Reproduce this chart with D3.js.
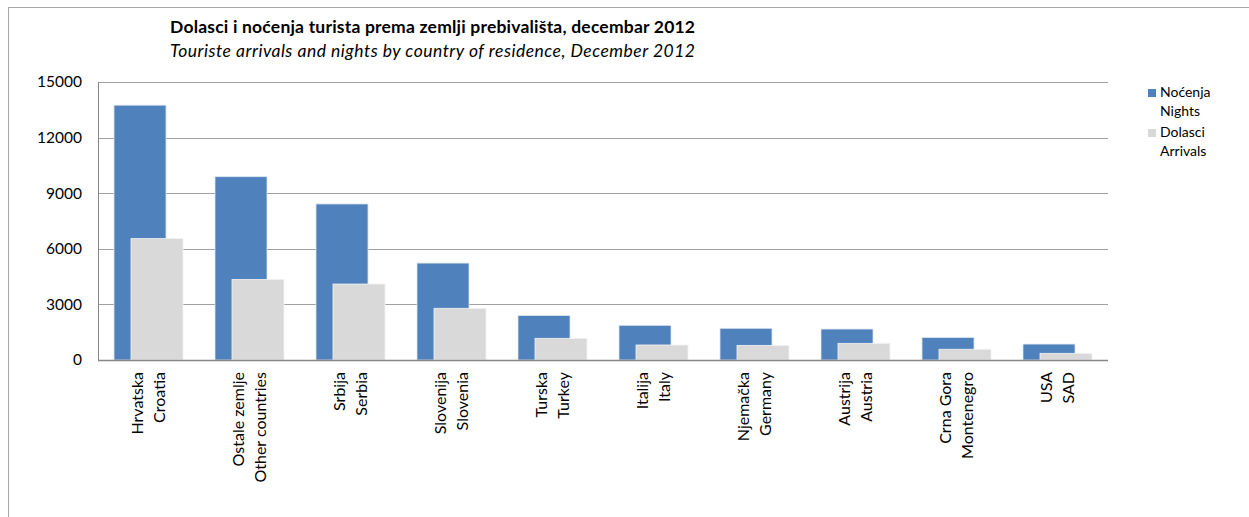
<!DOCTYPE html>
<html><head><meta charset="utf-8">
<script src="https://cdn.jsdelivr.net/npm/d3@7"></script>
<style>body{margin:0;background:#fff}svg{display:block}text{font-family:Lato,"Open Sans",sans-serif;fill:#000}</style>
</head><body>
<script>
const categories = [
  ["Hrvatska","Croatia"],["Ostale zemlje","Other countries"],["Srbija","Serbia"],["Slovenija","Slovenia"],
  ["Turska","Turkey"],["Italija","Italy"],["Njemačka","Germany"],["Austrija","Austria"],
  ["Crna Gora","Montenegro"],["USA","SAD"]
];
const nights   = [13750, 9890, 8420, 5230, 2400, 1870, 1710, 1670, 1210, 860];
const arrivals = [6550, 4350, 4100, 2790, 1170, 810, 790, 900, 580, 360];
const yTicks = [0, 3000, 6000, 9000, 12000, 15000];
const seriesNames = [["Noćenja","Nights"],["Dolasci","Arrivals"]];
const colors = ["#4F81BD", "#D9D9D9"];

const W = 1249, H = 517;
const svg = d3.select("body").append("svg").attr("width", W).attr("height", H);
svg.append("rect").attr("x", 8.5).attr("y", 7.5).attr("width", 1260).attr("height", 530)
  .attr("fill", "none").attr("stroke", "#a6a6a6").attr("stroke-width", 1);

const L = 98, R = 1108, T = 82, B = 360;
const x = d3.scaleBand().domain(d3.range(categories.length)).range([L, R]).padding(0);
const y = d3.scaleLinear().domain([0, 15000]).range([B, T]);

// gridlines
svg.append("g").selectAll("line").data(yTicks.filter(d => d > 0)).join("line")
  .attr("x1", L).attr("x2", R).attr("y1", d => Math.round(y(d)) + 0.5).attr("y2", d => Math.round(y(d)) + 0.5)
  .attr("stroke", "#a0a0a0").attr("stroke-width", 1);

// y axis
const yAxis = svg.append("g").attr("transform", `translate(${L},0)`)
  .call(d3.axisLeft(y).tickValues(yTicks).tickFormat(d3.format("d")).tickSize(0).tickPadding(16));
yAxis.select(".domain").attr("stroke", "#868686");
yAxis.selectAll("text").attr("font-size", 15.5).attr("font-family", "Lato, sans-serif").attr("fill", "#000");

const barW = 52, offset = 17;
const groupW = barW + offset;
const g = svg.append("g");
g.selectAll("rect.n").data(nights).join("rect").attr("class", "n")
  .attr("x", (d, i) => x(i) + (x.bandwidth() - groupW) / 2)
  .attr("y", d => y(d)).attr("width", barW).attr("height", d => B - y(d))
  .attr("fill", colors[0]).attr("stroke", "#dbe5f1").attr("stroke-width", 0.8);
g.selectAll("rect.a").data(arrivals).join("rect").attr("class", "a")
  .attr("x", (d, i) => x(i) + (x.bandwidth() - groupW) / 2 + offset)
  .attr("y", d => y(d)).attr("width", barW).attr("height", d => B - y(d))
  .attr("fill", colors[1]).attr("stroke", "#f2f2f2").attr("stroke-width", 0.8);

// x axis line
svg.append("line").attr("x1", L).attr("x2", R).attr("y1", B + 0.5).attr("y2", B + 0.5)
  .attr("stroke", "#868686").attr("stroke-width", 1.5);

// x labels
const lab = svg.append("g").selectAll("g").data(categories).join("g")
  .attr("transform", (d, i) => `translate(${x(i) + x.bandwidth() / 2},372) rotate(-90)`);
lab.each(function (d) {
  const t = d3.select(this).append("text").attr("text-anchor", "end").attr("font-size", 16);
  t.append("tspan").attr("x", 0).attr("y", -6).text(d[0]);
  t.append("tspan").attr("x", 0).attr("y", 16).text(d[1]);
});

// title
svg.append("text").attr("x", 170).attr("y", 33).attr("font-size", 17.5).attr("font-weight", "bold")
  .attr("textLength", 525).attr("lengthAdjust", "spacing")
  .text("Dolasci i noćenja turista prema zemlji prebivališta, decembar 2012");
svg.append("text").attr("x", 170).attr("y", 57).attr("font-size", 17.5).attr("font-style", "italic")
  .attr("textLength", 525).attr("lengthAdjust", "spacing")
  .text("Touriste arrivals and nights by country of residence, December 2012");

// legend
const leg = svg.append("g").selectAll("g").data(seriesNames).join("g")
  .attr("transform", (d, i) => `translate(1148,${89 + i * 40})`);
leg.append("rect").attr("width", 8).attr("height", 8).attr("fill", (d, i) => colors[i]);
leg.append("text").attr("x", 12).attr("y", 8).attr("font-size", 14).text(d => d[0]);
leg.append("text").attr("x", 12).attr("y", 27).attr("font-size", 14).text(d => d[1]);
</script>
</body></html>
